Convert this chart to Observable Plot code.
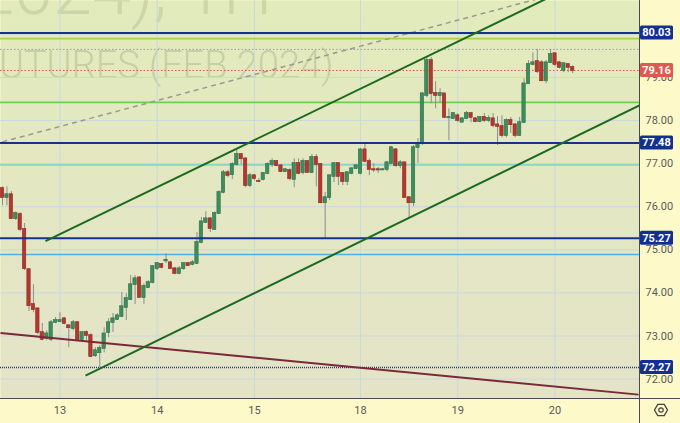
<!DOCTYPE html>
<html><head><meta charset="utf-8">
<script src="https://cdn.jsdelivr.net/npm/d3@7"></script>
<script src="https://cdn.jsdelivr.net/npm/@observablehq/plot@0.6"></script>
<style>
html,body{margin:0;padding:0;background:#fdf9c9;}
#chart{width:680px;height:423px;overflow:hidden;position:relative;}
svg{display:block;}
</style></head><body><div id="chart"></div>
<script>
// Hourly candles (bar index 0..129), prices
const opens = [76.42,76.21,76.28,75.72,75.82,75.47,74.54,73.73,73.63,73.08,72.94,72.92,73.31,73.33,73.40,73.24,73.17,73.31,72.92,73.08,
73.01,72.54,72.61,72.71,73.08,73.31,73.38,73.45,73.66,73.84,74.19,74.35,73.89,74.12,74.24,74.56,74.66,74.74,74.70,74.56,
74.45,74.56,74.68,74.66,74.68,75.17,75.63,75.72,75.47,75.84,76.33,76.79,76.74,76.98,77.21,77.11,76.49,76.72,76.59,76.63,
76.77,76.98,77.05,76.95,76.81,76.84,76.63,77.00,76.79,77.05,76.79,77.14,76.98,76.09,76.21,76.70,77.00,76.77,76.58,76.77,
76.88,76.77,77.32,77.05,76.86,76.86,76.85,76.86,77.00,77.32,76.95,77.02,76.21,76.09,77.37,77.46,78.58,79.39,78.63,78.58,
78.62,78.06,78.04,78.11,77.96,78.04,78.16,78.04,77.97,78.07,78.00,78.04,77.90,77.86,77.65,78.00,77.90,77.65,77.95,78.85,
79.30,79.37,79.34,78.92,79.34,79.55,79.34,79.16,79.30,79.23];
const highs = [76.46,76.46,76.35,75.88,75.86,75.61,74.56,74.19,73.66,73.29,73.12,73.36,73.43,73.54,73.43,73.24,73.36,73.33,73.10,73.12,
73.05,72.73,72.78,73.19,73.40,73.52,73.52,74.01,73.98,74.40,74.40,74.38,74.21,74.28,74.63,74.70,74.68,74.91,74.73,74.59,
74.61,74.70,74.70,74.75,75.40,75.75,75.88,75.75,75.88,76.37,76.84,76.84,77.02,77.35,77.23,77.14,76.77,76.74,76.65,76.79,
77.02,77.11,77.07,76.98,76.88,76.88,77.11,77.11,77.11,77.07,77.21,77.21,77.00,76.33,76.72,77.02,77.02,76.79,76.81,76.91,
76.98,77.35,77.44,77.11,77.00,76.91,76.88,77.05,77.39,77.35,77.07,77.02,76.23,77.42,77.58,78.65,79.46,79.46,78.90,78.74,
78.62,78.27,78.18,78.16,78.07,78.21,78.18,78.07,78.09,78.16,78.11,78.16,78.09,78.11,78.04,78.07,77.93,78.07,78.97,79.39,
79.57,79.65,79.39,79.39,79.65,79.57,79.37,79.32,79.30,79.27];
const lows = [76.02,76.02,75.70,75.68,75.42,74.52,73.57,73.54,73.03,72.89,72.89,72.87,73.29,73.31,73.26,72.73,73.12,72.89,72.89,72.89,
72.50,72.50,72.27,72.61,72.96,73.08,73.36,73.43,73.36,73.82,73.73,73.89,73.73,74.10,74.21,74.52,74.56,74.68,74.54,74.42,
74.42,74.52,74.61,74.63,74.66,75.14,75.63,75.40,75.45,75.82,76.30,76.67,76.63,76.95,76.98,76.44,76.44,76.60,76.56,76.60,
76.74,76.91,76.93,76.79,76.79,76.60,76.44,76.74,76.74,76.77,76.77,76.46,76.07,75.26,76.14,76.56,76.49,76.49,76.49,76.74,
76.86,76.74,77.02,76.72,76.79,76.77,76.84,76.81,77.00,76.91,76.88,76.19,75.75,76.00,77.00,77.42,78.53,78.39,78.27,78.41,
78.04,77.53,78.02,77.95,77.93,78.02,77.95,77.95,77.95,77.95,77.95,77.83,77.42,77.60,77.60,77.70,77.60,77.63,77.93,78.85,
79.27,79.09,78.90,78.85,79.32,79.25,79.20,79.11,79.11,79.09];
const closes = [76.21,76.28,75.72,75.84,75.47,74.56,73.70,73.61,73.08,72.92,73.05,73.31,73.36,73.36,73.29,73.19,73.31,72.92,73.08,73.01,
72.52,72.66,72.71,73.05,73.31,73.40,73.47,73.68,73.87,74.19,74.33,73.89,74.15,74.24,74.61,74.68,74.59,74.76,74.56,74.45,
74.56,74.68,74.63,74.70,75.17,75.65,75.72,75.49,75.84,76.33,76.79,76.72,76.98,77.21,77.11,76.49,76.72,76.65,76.58,76.77,
76.98,77.05,76.95,76.81,76.86,76.65,77.00,76.77,77.05,76.79,77.14,76.98,76.09,76.21,76.72,77.00,76.70,76.58,76.79,76.88,
76.95,77.32,77.05,76.86,76.85,76.85,76.86,77.02,77.37,76.95,77.02,76.21,76.09,77.37,77.46,78.62,79.39,78.62,78.58,78.63,
78.07,78.07,78.16,78.00,78.04,78.16,78.07,77.97,78.07,78.00,78.05,77.88,77.86,77.65,78.00,77.90,77.65,77.95,78.85,79.30,
79.34,79.13,78.92,79.34,79.53,79.30,79.23,79.32,79.23,79.16];

// Day labels on the time axis (bar index where each session begins)
const dayTickIndex = [13, 35, 57, 81, 103, 125];
const dayTickLabels = ["13", "14", "15", "18", "19", "20"];
const gridPrices = [72, 73, 74, 75, 76, 77, 78, 79, 80];
const priceTicks = [72, 73, 74, 75, 76, 77, 78, 79];

// Horizontal levels
const keyLevels = [80.03, 77.48, 75.27];
const dottedLevel = 72.27;
const lastPrice = 79.16;
const rangeHigh = 79.65;
const colorLevelPrices = [79.90, 78.42, 76.97, 74.89];
const colorLevelColors = ["#a9d24a", "#6fcf50", "#86d8c2", "#4db2e2"];

// Trend lines: [barIndex, price] end points
const channelUpper = [[9.73, 75.20], [130, 81.17]];
const channelLower = [[18.78, 72.08], [144.1, 78.35]];
const dashedTrend = [[-2, 77.45], [125, 80.93]];
const maroonTrend = [[-0.45, 73.07], [143.9, 71.64]];

// Watermark texts
const watermarkSymbol = "BRENT (FEB 2024), 1H";
const watermarkName = "BRENT CRUDE OIL FUTURES (FEB 2024)";

const candles = opens.map((o, i) => ({i, open: o, high: highs[i], low: lows[i], close: closes[i]}));
const colorLevels = colorLevelPrices.map((p, k) => ({price: p, color: colorLevelColors[k]}));
const seg = (pts) => [{x1: pts[0][0], y1: pts[0][1], x2: pts[1][0], y2: pts[1][1]}];

const W = 680, H = 423, mR = 41, mB = 25;
const xDomain = [-0.4525, 144.12];
const yDomain = [71.55, 80.784];

const chart = Plot.plot({
  width: W, height: H,
  marginLeft: 0, marginRight: mR, marginTop: 0, marginBottom: mB,
  style: {background: "transparent", fontFamily: "Roboto, 'Liberation Sans', sans-serif", fontSize: "11px", color: "#555"},
  x: {domain: xDomain, axis: null},
  y: {domain: yDomain, axis: null},
  marks: [
    Plot.frame({fill: "url(#plotbg)", stroke: null}),
    Plot.text([watermarkSymbol], {frameAnchor: "top-left", dx: 272, dy: 13, textAnchor: "end", lineAnchor: "bottom",
      fontSize: 70, fontWeight: 300, fill: "#8b9670", fillOpacity: 0.25}),
    Plot.text([watermarkName], {frameAnchor: "top-left", dx: 333, dy: 77, textAnchor: "end", lineAnchor: "bottom",
      fontSize: 38, fontWeight: 300, fill: "#8b9670", fillOpacity: 0.32}),
    Plot.gridY(gridPrices, {stroke: "#cbd8dd", strokeOpacity: 1}),
    Plot.gridX(dayTickIndex, {stroke: "#cbd8dd", strokeOpacity: 1}),
    Plot.ruleY([rangeHigh], {stroke: "#9c9c94", strokeDasharray: "1.5,2"}),
    Plot.ruleY([lastPrice], {stroke: "#e2574c", strokeDasharray: "1.5,2"}),
    Plot.ruleY(colorLevels, {y: "price", stroke: "color", strokeWidth: 1.6}),
    Plot.link(seg(dashedTrend), {x1: "x1", y1: "y1", x2: "x2", y2: "y2", stroke: "#9a9a92", strokeWidth: 1.5, strokeDasharray: "5,4", clip: true}),
    Plot.ruleX(candles, {x: "i", y1: "low", y2: "high", stroke: "#8d8d8d", strokeWidth: 1}),
    Plot.rect(candles, {
      x1: d => d.i - 0.38, x2: d => d.i + 0.38,
      y1: d => Math.min(d.open, d.close), y2: d => Math.max(d.open, d.close),
      fill: d => d.close >= d.open ? "#3f8d5d" : "#b4372d",
      stroke: d => d.close >= d.open ? "#2f7048" : "#8f2b23", strokeWidth: 0.6,
      insetTop: -0.4, insetBottom: -0.4
    }),
    Plot.ruleY(keyLevels, {stroke: "#16318f", strokeWidth: 2}),
    Plot.ruleY([dottedLevel], {stroke: "#1f3c8c", strokeWidth: 1.6, strokeDasharray: "1,1"}),
    Plot.link(seg(maroonTrend), {x1: "x1", y1: "y1", x2: "x2", y2: "y2", stroke: "#7b2838", strokeWidth: 2, clip: true}),
    Plot.link(seg(channelUpper), {x1: "x1", y1: "y1", x2: "x2", y2: "y2", stroke: "#1c6a20", strokeWidth: 2, clip: true}),
    Plot.link(seg(channelLower), {x1: "x1", y1: "y1", x2: "x2", y2: "y2", stroke: "#1c6a20", strokeWidth: 2, clip: true}),
    Plot.axisY(priceTicks, {anchor: "right", tickSize: 0, tickPadding: 6, tickFormat: d => d.toFixed(2), fill: "#5a5a5a", fontSize: 11}),
    Plot.axisX(dayTickIndex, {anchor: "bottom", tickSize: 0, tickPadding: 8, tickFormat: d => dayTickLabels[dayTickIndex.indexOf(d)], fill: "#5a5a5a", fontSize: 11})
  ]
});

document.getElementById("chart").appendChild(chart);
const svg = d3.select(chart);
const defs = svg.insert("defs", ":first-child");
const grad = defs.append("linearGradient").attr("id", "plotbg").attr("x1", 0).attr("y1", 0).attr("x2", 0).attr("y2", 1);
grad.append("stop").attr("offset", "0%").attr("stop-color", "#e2ebbc");
grad.append("stop").attr("offset", "100%").attr("stop-color", "#e4e3c8");

const ys = chart.scale("y");
const plotRight = W - mR;
// axis borders
svg.append("line").attr("x1", plotRight + 0.5).attr("x2", plotRight + 0.5).attr("y1", 0).attr("y2", H).attr("stroke", "#4a4a4a");
svg.append("line").attr("x1", 0).attr("x2", W).attr("y1", H - mB + 0.5).attr("y2", H - mB + 0.5).attr("stroke", "#4a4a4a");

// price boxes on the right axis
const boxes = [...keyLevels, dottedLevel].map(v => ({v, fill: "#11308f"})).concat([{v: lastPrice, fill: "#df5a4e"}]);
boxes.forEach(b => {
  const y = ys.apply(b.v);
  svg.append("rect").attr("x", plotRight + 1).attr("y", y - 7).attr("width", 33).attr("height", 14).attr("rx", 1.5).attr("fill", b.fill);
  svg.append("text").attr("x", plotRight + 17.5).attr("y", y).attr("dy", "0.35em").attr("text-anchor", "middle")
    .attr("fill", "#fff").attr("font-weight", "bold").attr("font-size", 11)
    .attr("font-family", "Roboto, 'Liberation Sans', sans-serif").text(b.v.toFixed(2));
});

// settings icon
const cx = 661, cy = 410, r = 6.5;
const hex = d3.range(6).map(k => [cx + r * Math.cos(Math.PI / 3 * k), cy + r * Math.sin(Math.PI / 3 * k)]);
svg.append("path").attr("d", "M" + hex.join("L") + "Z").attr("fill", "none").attr("stroke", "#444").attr("stroke-width", 1.3);
svg.append("circle").attr("cx", cx).attr("cy", cy).attr("r", 2.2).attr("fill", "none").attr("stroke", "#444").attr("stroke-width", 1.2);
</script>
</body></html>
